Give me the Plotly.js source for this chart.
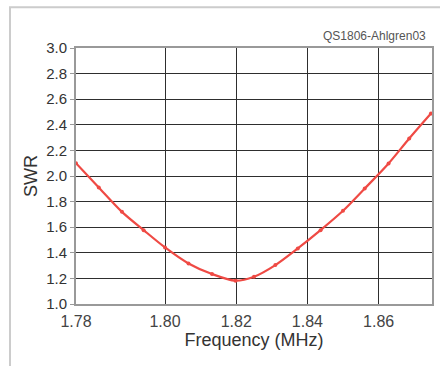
<!DOCTYPE html>
<html>
<head>
<meta charset="utf-8">
<script src="https://cdn.plot.ly/plotly-3.0.1.min.js"></script>
<style>
html,body{margin:0;padding:0;background:#fff;}
#chart{width:440px;height:366px;}
</style>
</head>
<body>
<div id="chart"></div>
<script>
// Data (frequency in MHz, SWR)
const freq = [1.775, 1.7814, 1.7879, 1.7940, 1.8000, 1.8066, 1.8132, 1.8198, 1.8250, 1.8310, 1.8373, 1.8437, 1.8500, 1.8561, 1.8628, 1.8686, 1.8747];
const swr  = [2.10, 1.91, 1.72, 1.577, 1.442, 1.317, 1.234, 1.182, 1.213, 1.304, 1.434, 1.577, 1.728, 1.902, 2.098, 2.293, 2.488];
const xTickVals = [1.775, 1.80, 1.82, 1.84, 1.86];
const xTickText = ["1.78", "1.80", "1.82", "1.84", "1.86"];
const yTickVals = [1.0, 1.2, 1.4, 1.6, 1.8, 2.0, 2.2, 2.4, 2.6, 2.8, 3.0];
const yTickText = ["1.0", "1.2", "1.4", "1.6", "1.8", "2.0", "2.2", "2.4", "2.6", "2.8", "3.0"];
const credit = "QS1806-Ahlgren03";

const trace = {
  x: freq, y: swr, type: 'scatter', mode: 'lines+markers',
  line: {color: '#ef4a44', width: 2.2, shape: 'spline', smoothing: 0.8},
  marker: {color: '#ef4a44', size: 4},
  hoverinfo: 'skip', showlegend: false
};

const fontFam = 'Liberation Sans, Arial, sans-serif';
const layout = {
  width: 440, height: 366,
  margin: {l: 76, r: 8, t: 48, b: 62},
  paper_bgcolor: '#ffffff', plot_bgcolor: '#ffffff',
  font: {family: fontFam, color: '#333'},
  xaxis: {
    range: [1.775, 1.875], tickvals: xTickVals, ticktext: xTickText,
    showgrid: true, gridcolor: '#2e2e2e', gridwidth: 1,
    showline: true, linecolor: '#999', linewidth: 2, mirror: true,
    ticks: 'outside', ticklen: 2, tickcolor: 'rgba(0,0,0,0)', zeroline: false,
    tickfont: {size: 16, color: '#444', family: fontFam},
    title: {text: 'Frequency (MHz)', font: {size: 18, color: '#333', family: fontFam}, standoff: 2}
  },
  yaxis: {
    range: [1.0, 3.0], tickvals: yTickVals, ticktext: yTickText,
    showgrid: true, gridcolor: '#2e2e2e', gridwidth: 1,
    showline: true, linecolor: '#999', linewidth: 2, mirror: true,
    ticks: 'outside', ticklen: 4, tickcolor: '#999', tickwidth: 1, zeroline: false,
    tickfont: {size: 15, color: '#333', family: fontFam},
    title: {text: 'SWR', font: {size: 18, color: '#333', family: fontFam}, standoff: 4}
  },
  annotations: [{
    text: credit, xref: 'paper', yref: 'paper', x: 0.99, y: 1.01,
    xanchor: 'right', yanchor: 'bottom', showarrow: false,
    font: {size: 12, color: '#555', family: fontFam}
  }],
  shapes: [{
    type: 'rect', xref: 'paper', yref: 'paper',
    x0: -0.1854, x1: 1.05, y0: -0.3, y1: 1.1588,
    line: {color: '#cccccc', width: 2}, layer: 'below'
  }]
};

Plotly.newPlot('chart', [trace], layout, {staticPlot: true, displayModeBar: false});
</script>
</body>
</html>
